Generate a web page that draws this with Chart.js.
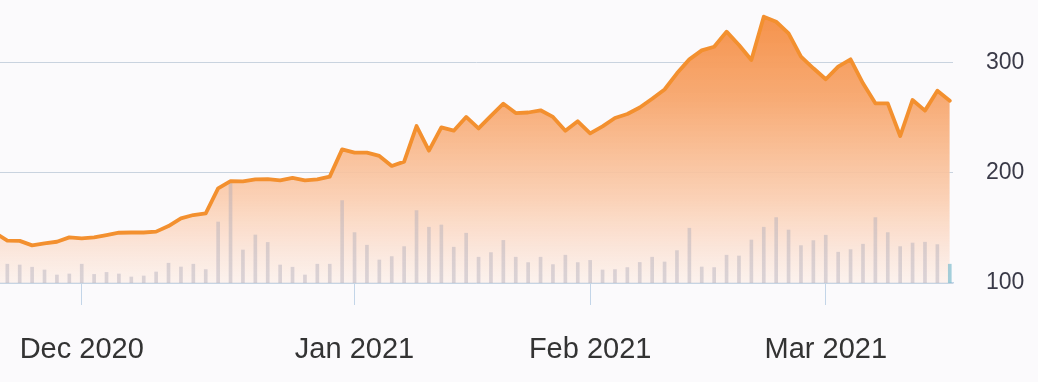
<!DOCTYPE html>
<html>
<head>
<meta charset="utf-8">
<script src="https://cdn.jsdelivr.net/npm/chart.js@4"></script>
<style>
html,body{margin:0;padding:0;background:#fbfafc;}
#wrap{width:1038px;height:382px;position:relative;}
</style>
</head>
<body>
<div id="wrap"><canvas id="c"></canvas></div>
<script>
// Trading days (Nov 19, 2020 – Mar 15, 2021)
const dates = [
  '2020-11-19','2020-11-20','2020-11-23','2020-11-24','2020-11-25','2020-11-27','2020-11-30',
  '2020-12-01','2020-12-02','2020-12-03','2020-12-04','2020-12-07','2020-12-08','2020-12-09','2020-12-10','2020-12-11',
  '2020-12-14','2020-12-15','2020-12-16','2020-12-17','2020-12-18','2020-12-21','2020-12-22','2020-12-23','2020-12-24',
  '2020-12-28','2020-12-29','2020-12-30','2020-12-31',
  '2021-01-04','2021-01-05','2021-01-06','2021-01-07','2021-01-08','2021-01-11','2021-01-12','2021-01-13','2021-01-14','2021-01-15',
  '2021-01-19','2021-01-20','2021-01-21','2021-01-22','2021-01-25','2021-01-26','2021-01-27','2021-01-28','2021-01-29',
  '2021-02-01','2021-02-02','2021-02-03','2021-02-04','2021-02-05','2021-02-08','2021-02-09','2021-02-10','2021-02-11','2021-02-12',
  '2021-02-16','2021-02-17','2021-02-18','2021-02-19','2021-02-22','2021-02-23','2021-02-24','2021-02-25','2021-02-26',
  '2021-03-01','2021-03-02','2021-03-03','2021-03-04','2021-03-05','2021-03-08','2021-03-09','2021-03-10','2021-03-11','2021-03-12','2021-03-15'
];

const prices = [
  145.6,
  138.5,138.3,134.2,136.0,137.5,141.5,140.6,141.5,143.6,145.7,145.9,145.9,146.7,151.8,158.8,161.8,163.3,186.0,192.7,
  192.4,194.2,194.5,193.3,195.5,193.3,194.2,196.7,221.5,218.5,218.5,215.5,206.4,210.3,242.7,220.3,241.5,238.5,251.0,
  240.5,252.0,263.0,254.5,255.0,257.0,251.0,238.5,247.0,236.0,242.4,250.0,253.6,259.5,267.5,275.9,290.6,303.3,311.5,
  314.8,328.5,316.4,302.7,342.1,337.5,327.0,305.7,295.2,285.2,296.7,303.3,281.5,263.3,263.3,233.6,266.4,256.7,274.8,265.7
];

// Volume, millions of shares
const volumes = [
  null,
  9.4,9.0,7.9,6.5,4.0,4.5,9.4,4.3,5.3,4.5,3.0,3.5,5.5,9.9,8.0,9.4,6.7,30.5,50.0,
  16.5,24.0,20.3,9.0,7.9,4.0,9.4,9.4,41.2,25.2,18.9,11.5,13.2,18.2,36.2,27.9,29.0,17.9,24.9,
  12.9,15.2,21.3,12.9,10.2,12.9,9.2,13.9,10.2,11.3,6.5,6.7,7.7,10.3,12.9,10.5,16.2,27.4,8.0,
  7.7,13.9,13.5,21.5,27.9,32.7,26.5,18.7,21.2,23.9,15.4,16.7,19.4,32.7,25.2,18.2,20.0,20.4,19.2,9.4
];

const priceTicks = [100, 200, 300];
const monthNames = ['Jan','Feb','Mar','Apr','May','Jun','Jul','Aug','Sep','Oct','Nov','Dec'];

// first trading day of each month -> x tick
const monthStarts = [];
dates.forEach((d, i) => { if (i > 0 && d.slice(0, 7) !== dates[i - 1].slice(0, 7)) monthStarts.push(i); });
function monthLabel(i) {
  const d = dates[i];
  if (!d) return '';
  return monthNames[parseInt(d.slice(5, 7), 10) - 1] + ' ' + d.slice(0, 4);
}

const FONT = '"Liberation Sans", Arial, Helvetica, sans-serif';
const lastIdx = volumes.length - 1;
const barColors = volumes.map((v, i) => i === lastIdx ? 'rgba(125,188,205,0.7)' : 'rgba(175,170,185,0.45)');

new Chart(document.getElementById('c'), {
  data: {
    datasets: [
      {
        type: 'line',
        label: 'Price',
        data: prices.map((p, i) => ({ x: i, y: p })),
        yAxisID: 'y',
        borderColor: '#f3902f',
        borderWidth: 3.8,
        borderJoinStyle: 'round',
        borderCapStyle: 'round',
        pointRadius: 0,
        tension: 0,
        fill: 'start',
        order: 1,
        backgroundColor: (c) => {
          const chart = c.chart;
          const a = chart.chartArea;
          if (!a) return 'rgba(246,150,80,0.5)';
          const g = chart.ctx.createLinearGradient(0, a.top, 0, a.bottom);
          g.addColorStop(0, 'rgba(245,142,68,1)');
          g.addColorStop(0.35, 'rgba(247,168,112,0.97)');
          g.addColorStop(0.7, 'rgba(250,204,174,0.9)');
          g.addColorStop(1, 'rgba(252,238,232,0.7)');
          return g;
        }
      },
      {
        type: 'bar',
        label: 'Volume',
        data: volumes.map((v, i) => ({ x: i, y: v })),
        yAxisID: 'yv',
        backgroundColor: barColors,
        barThickness: 3,
        order: 2
      }
    ]
  },
  options: {
    responsive: true,
    maintainAspectRatio: false,
    animation: false,
    devicePixelRatio: 1,
    layout: { padding: 0 },
    plugins: {
      legend: { display: false },
      tooltip: { enabled: false },
      filler: { drawTime: 'beforeDatasetsDraw' }
    },
    scales: {
      x: {
        type: 'linear',
        position: 'bottom',
        bounds: 'data',
        offset: false,
        min: 0.41,
        max: 77.26,
        afterBuildTicks: (s) => { s.ticks = monthStarts.map(v => ({ value: v })); },
        afterFit: (s) => { s.height = 99; s.paddingLeft = 0; s.paddingRight = 0; },
        ticks: {
          callback: (v) => monthLabel(v),
          font: { family: FONT, size: 29 },
          color: '#333333',
          padding: 28,
          maxRotation: 0,
          autoSkip: false
        },
        grid: { offset: false, drawOnChartArea: false, drawTicks: true, tickLength: 22, color: '#c3d5e8', lineWidth: 1 },
        border: { display: true, color: '#c3d5e8', width: 1.5 }
      },
      y: {
        position: 'right',
        bounds: 'data',
        min: 100,
        max: 357.27,
        afterBuildTicks: (s) => { s.ticks = priceTicks.map(v => ({ value: v })); },
        afterFit: (s) => { s.width = 85; s.paddingTop = 0; s.paddingBottom = 0; },
        ticks: { font: { family: FONT, size: 23 }, color: '#3a3a48', padding: 33 },
        grid: { drawTicks: false, color: '#c9d3df', lineWidth: 1 },
        border: { display: false }
      },
      yv: { display: false, min: 0, max: 141.5 }
    }
  }
});
</script>
</body>
</html>
